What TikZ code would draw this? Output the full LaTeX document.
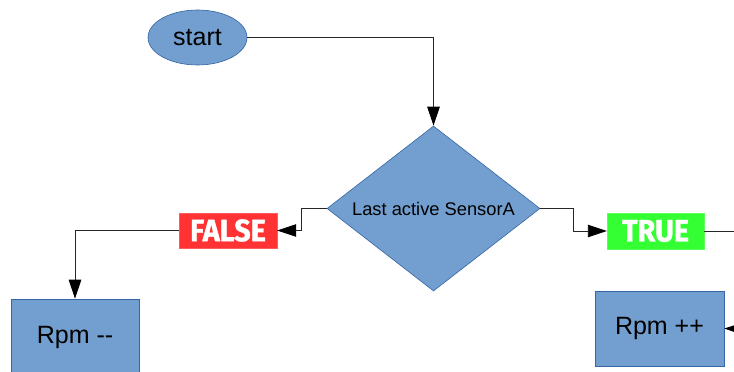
\documentclass[tikz,border=0pt]{standalone}
\usepackage{fontspec}
\setmainfont{Liberation Sans}
\newfontfamily\tagfont[BoldFeatures={FakeBold=1.3,FakeStretch=0.93}]{Fira Sans}
\usetikzlibrary{shapes.geometric,arrows.meta}

\definecolor{boxfill}{HTML}{729FCF}
\definecolor{boxline}{HTML}{3465A4}
\definecolor{falsered}{HTML}{FF3333}
\definecolor{truegreen}{HTML}{33FF33}

\tikzset{
  flowbox/.style={draw=boxline, fill=boxfill, line width=0.6pt, inner sep=0pt,
                  font=\fontsize{25}{28}\selectfont},
  tagbox/.style={inner sep=0pt, text=white,
                 font=\tagfont\bfseries\fontsize{31}{33}\selectfont},
  link/.style={draw=black!85, line width=0.9pt,
               -{Triangle[length=19pt,width=12.5pt,color=black]}},
  plainlink/.style={draw=black!85, line width=0.9pt}
}

\begin{document}
\begin{tikzpicture}[x=1pt,y=-1pt]
  \useasboundingbox (0,0) rectangle (734,372);
  \clip (0,0) rectangle (734,372);
  \fill[white] (0,0) rectangle (734,372);

  % start terminal
  \node[flowbox, ellipse, minimum width=99pt, minimum height=55pt]
    (start) at (197.5,37.5) {start};

  % decision
  \node[flowbox, diamond, aspect=1.29, minimum width=213pt, minimum height=165pt,
        font=\fontsize{18.3}{20}\selectfont]
    (dec) at (433.5,208.5) {Last active SensorA};

  % outcome tags
  \node[tagbox, fill=falsered, draw=falsered!80!white, minimum width=98pt, minimum height=35pt]
    (false) at (228,230.5) {FALSE};
  \node[tagbox, fill=truegreen, draw=truegreen!80!white, minimum width=97pt, minimum height=36pt]
    (true) at (655.5,231) {TRUE};

  % actions
  \node[flowbox, rectangle, minimum width=128pt, minimum height=76pt]
    (rpmdown) at (75,337) {Rpm {-}{-}};
  \node[flowbox, rectangle, minimum width=129pt, minimum height=75pt]
    (rpmup) at (659.5,328.5) {Rpm ++};

  % loose ends running off to the right
  \coordinate (trueout) at (760,231);
  \coordinate (upin) at (760,329);

  % connectors
  \draw[link] (start.east) -| (dec.north);
  \draw[link] (dec.west) -- ++(-25,0) |- (false.east);
  \draw[link] (false.west) -| (rpmdown.north);
  \draw[link] (dec.east) -- ++(33,0) |- (true.west);
  \draw[plainlink] (true.east) -- (trueout);
  \draw[link] (upin) -- (rpmup.east);
\end{tikzpicture}
\end{document}
